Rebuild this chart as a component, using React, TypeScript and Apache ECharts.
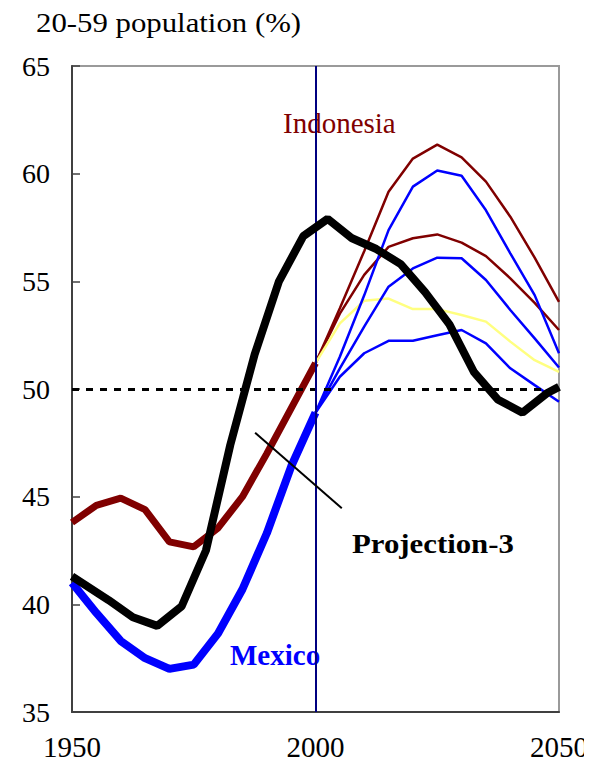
import React, { useEffect, useRef } from "react";
import * as echarts from "echarts";

// Historical years (5-year steps)
const histYears = [1950, 1955, 1960, 1965, 1970, 1975, 1980, 1985, 1990, 1995, 2000];
const mexicoHist = [41.0, 39.6, 38.3, 37.5, 37.0, 37.2, 38.65, 40.7, 43.3, 46.4, 48.9];
const indonesiaHist = [43.8, 44.6, 44.93, 44.4, 42.9, 42.67, 43.55, 45.0, 47.0, 49.1, 51.2];

// Unlabelled black series (points on mid-period years)
const blackYears = [1950, 1957.5, 1962.5, 1967.5, 1972.5, 1977.5, 1982.5, 1987.5, 1992.5, 1997.5, 2002.5, 2007.5, 2012.5, 2017.5, 2022.5, 2027.5, 2032.5, 2037.5, 2042.5, 2047.5, 2050];
const blackValues = [41.3, 40.2, 39.4, 39.0, 39.9, 42.5, 47.4, 51.6, 55.0, 57.1, 57.9, 57.0, 56.5, 55.8, 54.5, 53.0, 50.8, 49.5, 48.9, 49.8, 50.1];

// Projections
const projYears = [2000, 2005, 2010, 2015, 2020, 2025, 2030, 2035, 2040, 2045, 2050];
const indonesiaHigh = [51.2, 53.75, 56.4, 59.16, 60.7, 61.35, 60.76, 59.63, 58.0, 56.1, 54.05];
const indonesiaMid = [51.2, 53.5, 55.3, 56.6, 57.0, 57.18, 56.8, 56.17, 55.14, 54.0, 52.74];
const indonesiaProj3 = [51.2, 53.05, 54.1, 54.2, 53.71, 53.71, 53.44, 53.13, 52.2, 51.34, 50.8];
const mexicoHigh = [48.9, 51.5, 54.35, 57.38, 59.4, 60.15, 59.9, 58.3, 56.3, 54.36, 51.66];
const mexicoMid = [48.9, 50.96, 52.9, 54.75, 55.6, 56.1, 56.07, 55.06, 53.67, 52.35, 51.0];
const mexicoLow = [48.9, 50.57, 51.66, 52.24, 52.24, 52.5, 52.74, 52.12, 50.96, 50.18, 49.41];

// Axis ticks
const xTicks = [1950, 2000, 2050];
const yMin = 35;
const yMax = 65;
const yStep = 5;

// Annotation pointer (data coordinates)
const pointerFrom = [1987.6, 47.97];
const pointerTo = [2005.4, 44.46];

const zip = (xs: number[], ys: number[]) => xs.map((x, i) => [x, ys[i]]);

const SERIF = "Liberation Serif";

export default function App() {
  const ref = useRef<HTMLDivElement>(null);

  useEffect(() => {
    if (!ref.current) return;
    const chart = echarts.init(ref.current, null, { renderer: "svg" });

    const thin = (name: string, ys: number[], color: string) => ({
      name,
      type: "line",
      data: zip(projYears, ys),
      showSymbol: false,
      symbol: "none",
      lineStyle: { color, width: 2.5 },
      z: 3,
    });

    chart.setOption({
      animation: false,
      backgroundColor: "#ffffff",
      textStyle: { fontFamily: SERIF },
      grid: {
        left: 72,
        right: 33,
        top: 66,
        bottom: 54,
        show: true,
        borderColor: "#9a9a9a",
        borderWidth: 2,
        backgroundColor: "transparent",
      },
      xAxis: {
        type: "value",
        min: 1950,
        max: 2050,
        interval: 50,
        axisLine: { show: true, onZero: false, lineStyle: { color: "#404040", width: 2 } },
        axisTick: { show: false },
        splitLine: { show: false },
        axisLabel: {
          color: "#000",
          fontFamily: SERIF,
          fontSize: 29,
          margin: 20,
          formatter: (v: number) => (xTicks.includes(v) ? String(v) : ""),
        },
      },
      yAxis: {
        type: "value",
        min: yMin,
        max: yMax,
        interval: yStep,
        axisLine: { show: true, onZero: false, lineStyle: { color: "#404040", width: 2 } },
        axisTick: { show: true, inside: true, length: 8, lineStyle: { color: "#404040", width: 1.5 } },
        splitLine: { show: false },
        axisLabel: {
          color: "#000",
          fontFamily: SERIF,
          fontSize: 28,
          margin: 22,
        },
      },
      series: [
        {
          name: "refs",
          type: "line",
          data: [],
          z: 1,
          markLine: {
            silent: true,
            symbol: "none",
            label: { show: false },
            animation: false,
            data: [
              { yAxis: 50, lineStyle: { color: "#000", width: 3, type: [7, 7] } },
              { xAxis: 2000, lineStyle: { color: "#000080", width: 2, type: "solid" } },
              [
                { coord: pointerFrom, lineStyle: { color: "#000", width: 2, type: "solid" } },
                { coord: pointerTo },
              ],
            ],
          },
        },
        thin("Indonesia high", indonesiaHigh, "#800000"),
        thin("Indonesia mid", indonesiaMid, "#800000"),
        thin("Projection-3", indonesiaProj3, "#ffff80"),
        thin("Mexico high", mexicoHigh, "#0000ff"),
        thin("Mexico mid", mexicoMid, "#0000ff"),
        thin("Mexico low", mexicoLow, "#0000ff"),
        {
          name: "Indonesia",
          type: "line",
          data: zip(histYears, indonesiaHist),
          symbol: "none",
          lineStyle: { color: "#800000", width: 7 },
          z: 4,
        },
        {
          name: "Mexico",
          type: "line",
          data: zip(histYears, mexicoHist),
          symbol: "none",
          lineStyle: { color: "#0000ff", width: 8 },
          z: 4,
        },
        {
          name: "Other",
          type: "line",
          data: zip(blackYears, blackValues),
          symbol: "none",
          lineStyle: { color: "#000000", width: 8 },
          z: 5,
        },
      ],
      graphic: [
        {
          type: "text",
          left: 36,
          top: 8,
          scaleX: 1.1,
          style: { text: "20-59 population (%)", fill: "#000", fontFamily: SERIF, fontSize: 28 },
        },
        {
          type: "text",
          left: 283,
          top: 108,
          style: { text: "Indonesia", fill: "#800000", fontFamily: SERIF, fontSize: 29 },
        },
        {
          type: "text",
          left: 230,
          top: 640,
          style: { text: "Mexico", fill: "#0000ff", fontFamily: SERIF, fontSize: 29, fontWeight: "bold" },
        },
        {
          type: "text",
          left: 352,
          top: 529,
          scaleX: 1.1,
          style: { text: "Projection-3", fill: "#000", fontFamily: SERIF, fontSize: 28, fontWeight: "bold" },
        },
      ],
    });

    return () => chart.dispose();
  }, []);

  return <div ref={ref} style={{ width: 592, height: 766, margin: -8 }} />;
}
